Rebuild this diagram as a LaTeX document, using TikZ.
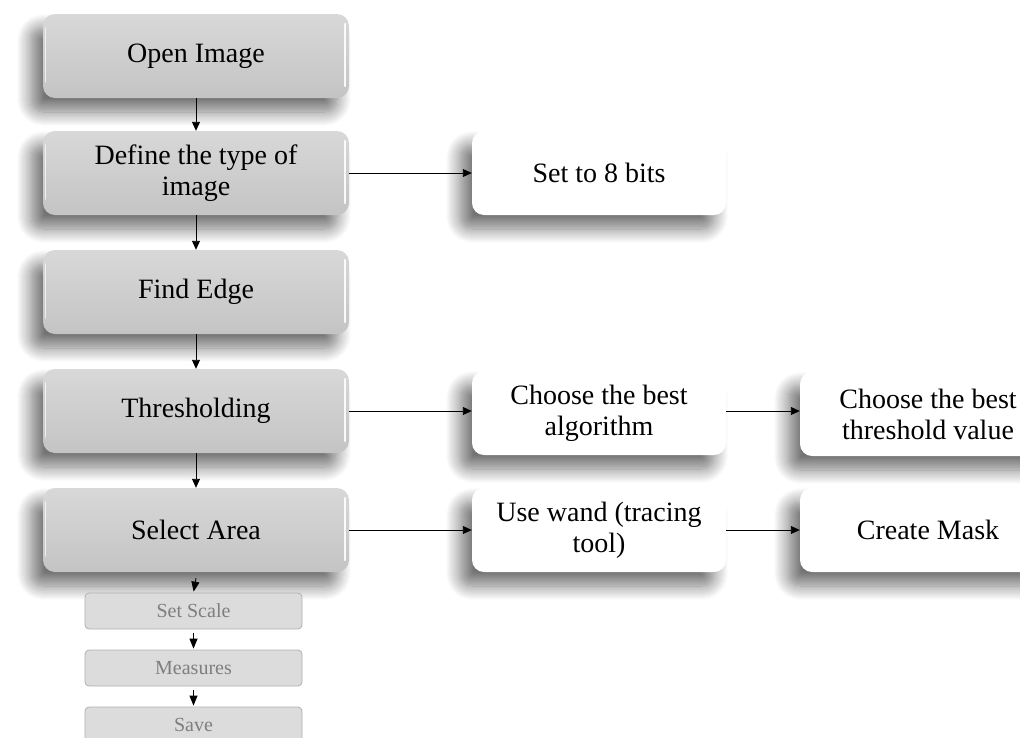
\documentclass[tikz,border=0pt]{standalone}
\usepackage{fontspec}
\setmainfont{Liberation Serif}
\usetikzlibrary{arrows.meta,shadows.blur}
\definecolor{gtop}{HTML}{D8D8D8}
\definecolor{gbot}{HTML}{C4C4C4}
\definecolor{smallfill}{HTML}{DCDCDC}
\definecolor{smallline}{HTML}{B0B0B0}
\definecolor{smalltext}{HTML}{7E7E7E}
\tikzset{
  shad/.style={blur shadow={shadow xshift=-12pt, shadow yshift=-14pt, shadow blur radius=14pt, shadow blur steps=14, shadow opacity=55}},
  graybox/.style={shad, rounded corners=12pt, top color=gtop, bottom color=gbot, draw=none,
    minimum width=306pt, minimum height=84pt, align=center, font=\fontsize{28}{31}\selectfont, inner sep=0pt},
  whitebox/.style={shad, rounded corners=12pt, fill=white, draw=none,
    minimum width=254pt, minimum height=84pt, align=center, font=\fontsize{28}{31}\selectfont, inner sep=0pt},
  smallbox/.style={rounded corners=4pt, fill=smallfill, draw=smallline, line width=0.8pt,
    minimum width=217pt, minimum height=36pt, text=smalltext, font=\fontsize{20}{22}\selectfont, inner sep=0pt},
  arr/.style={-{Triangle[length=9pt,width=8pt]}, line width=0.9pt, black},
  sarr/.style={-{Triangle[length=10pt,width=8pt]}, line width=0.9pt, black, shorten >=1pt},
  gloss/.style={white, line width=2pt, line cap=round, opacity=0.9}
}
\begin{document}
\begin{tikzpicture}[x=1pt,y=-1pt]
\useasboundingbox (0,0) rectangle (1020,737);
\clip (0,0) rectangle (1020,737);
% left column
\node[graybox] (open)   at (196,56)  {Open Image};
\node[graybox] (define) at (196,173) {Define the type of\\image};
\node[graybox] (edge)   at (196,292) {Find Edge};
\node[graybox] (thr)    at (196,411) {Thresholding};
\node[graybox] (sel)    at (196,530) {Select Area};
% gloss highlights
\foreach \n in {open,define,edge,thr,sel}{
  \draw[gloss] ([xshift=-4pt,yshift=-10pt]\n.north east) -- ([xshift=-4pt,yshift=12pt]\n.south east);
  \draw[gloss,line width=1pt,opacity=0.7] ([xshift=3pt,yshift=-14pt]\n.north west) -- ([xshift=3pt,yshift=16pt]\n.south west);
}
% right columns
\node[whitebox] (bits)  at (599,173) {Set to 8 bits};
\node[whitebox] (algo)  at (599,413)   {Choose the best\\algorithm};
\node[whitebox] (wand)  at (599,530)   {Use wand (tracing\\tool)};
\node[whitebox] (tval)  at (927,414)   {};
\node[whitebox] (mask)  at (927,530)   {};
\node[font=\fontsize{28}{31}\selectfont, align=center] (tvaltext) at (928,414) {Choose the best\\threshold value};
\node[font=\fontsize{28}{31}\selectfont] (masktext) at (928,530) {Create Mask};
% small boxes
\node[smallbox] (scale) at (193.5,611) {Set Scale};
\node[smallbox] (meas)  at (193.5,668) {Measures};
\node[smallbox] (save)  at (193.5,725) {Save};
% arrows
\draw[arr] (open.south) -- (define.north);
\draw[arr] (define.south) -- (edge.north);
\draw[arr] (edge.south) -- (thr.north);
\draw[arr] (thr.south) -- (sel.north);
\draw[arr] (define.east) -- (define.east -| bits.west);
\draw[arr] (thr.east) -- (thr.east -| algo.west);
\draw[arr] (sel.east) -- (sel.east -| wand.west);
\draw[arr] (thr.east -| algo.east) -- (thr.east -| tval.west);
\draw[arr] (wand.east) -- (mask.west);
\draw[sarr] ([yshift=-6pt]sel.south) -- (scale.north);
\draw[sarr] ([yshift=-4pt]scale.south) -- (meas.north);
\draw[sarr] ([yshift=-4pt]meas.south) -- (save.north);
\end{tikzpicture}
\end{document}
